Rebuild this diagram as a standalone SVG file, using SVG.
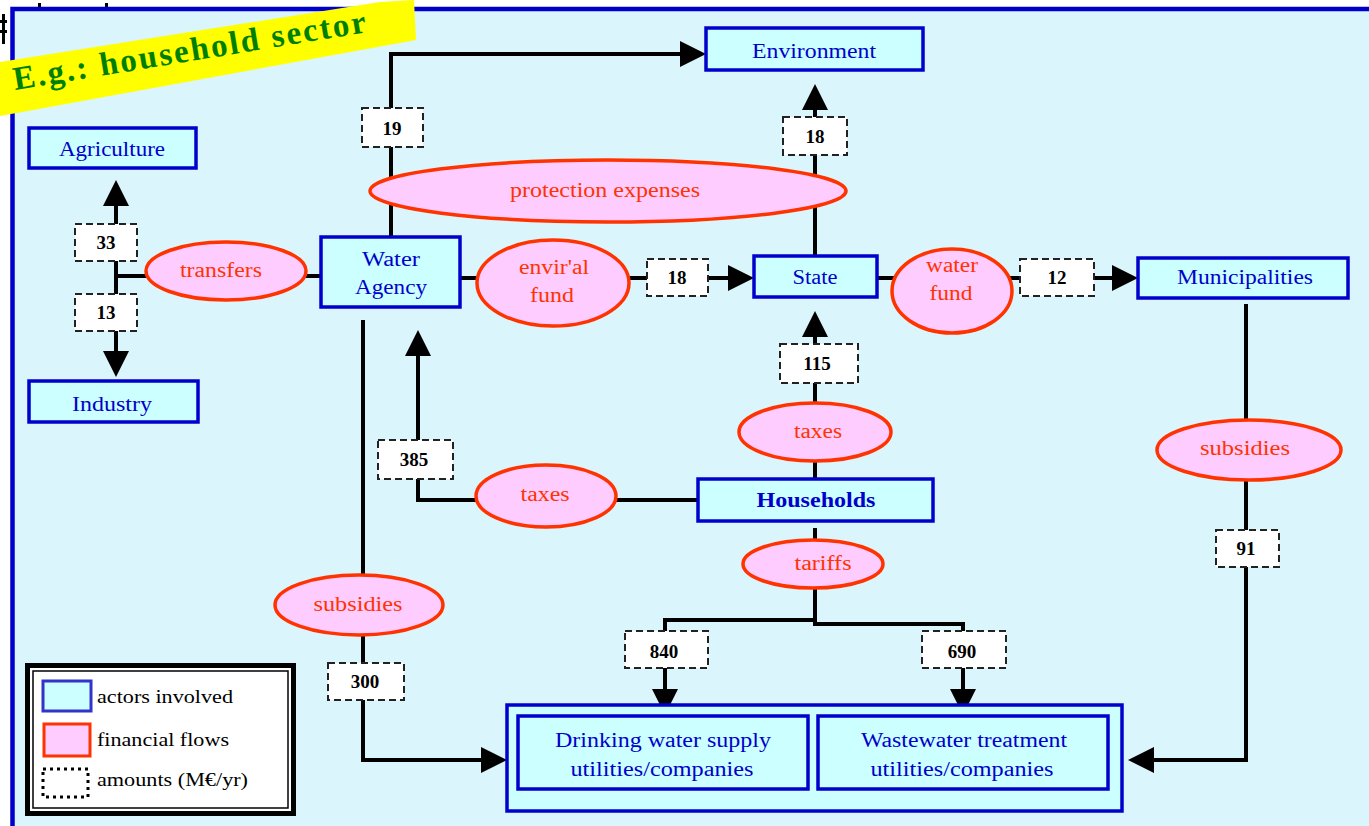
<svg xmlns="http://www.w3.org/2000/svg" width="1369" height="826" viewBox="0 0 1369 826">
  <style>
    .actor { fill: #ccffff; stroke: #0000cc; stroke-width: 3.5; }
    .flow { fill: #ffccff; stroke: #ff3300; stroke-width: 3.5; }
    .amount { fill: #ffffff; stroke: #222222; stroke-width: 2; stroke-dasharray: 7 4; }
    .wire { fill: none; stroke: #000000; stroke-width: 4; stroke-linejoin: miter; }
    .atext { font-family: "Liberation Serif", "Times New Roman", serif; font-size: 20px; fill: #0000cc; text-anchor: middle; }
    .ftext { font-family: "Liberation Serif", "Times New Roman", serif; font-size: 20px; fill: #ff3300; text-anchor: middle; }
    .ntext { font-family: "Liberation Serif", "Times New Roman", serif; font-size: 19px; font-weight: bold; fill: #000000; text-anchor: middle; }
    .ltext { font-family: "Liberation Serif", "Times New Roman", serif; font-size: 18px; fill: #000000; }
  </style>
  <defs>
    <marker id="arrow" viewBox="0 0 26 26" markerUnits="userSpaceOnUse" markerWidth="26" markerHeight="26" refX="6" refY="13" orient="auto">
      <path d="M0,0 L26,13 L0,26 z" fill="#000000"/>
    </marker>
  </defs>

  <!-- page background and frame -->
  <rect x="0" y="0" width="1369" height="826" fill="#ffffff"/>
  <rect x="12.5" y="9" width="1370" height="830" fill="#daf5fc" stroke="#0000cc" stroke-width="4.5"/>
  <rect x="0" y="20" width="7" height="3" fill="#000"/>
  <rect x="0" y="30" width="7" height="3" fill="#000"/>
  <rect x="2" y="14" width="3" height="30" fill="#000"/>
  <rect x="38" y="3" width="3" height="4" fill="#000"/>
  <rect x="105" y="3" width="3" height="4" fill="#000"/>

  <!-- title banner -->
  <g id="banner">
    <polygon points="0,62 380,2 414,0 416,40 0,116" fill="#ffff00"/>
    <text x="15" y="90" transform="rotate(-9.35 15 90)" textLength="357" lengthAdjust="spacing" font-family="Liberation Serif, Times New Roman, serif" font-size="33" font-weight="bold" fill="#008000">E.g.: household sector</text>
  </g>

  <!-- connectors -->
  <g id="connectors">
    <path class="wire" d="M391,237 V54 H686" marker-end="url(#arrow)"/>
    <path class="wire" d="M815,256 V104" marker-end="url(#arrow)"/>
    <path class="wire" d="M321,276 H116" stroke-width="5"/>
    <path class="wire" d="M116,276 V200" marker-end="url(#arrow)"/>
    <path class="wire" d="M116,276 V357" marker-end="url(#arrow)"/>
    <path class="wire" d="M460,278 H734" marker-end="url(#arrow)"/>
    <path class="wire" d="M877,278 H1118" marker-end="url(#arrow)"/>
    <path class="wire" d="M1246,304 V760 H1148" marker-end="url(#arrow)"/>
    <path class="wire" d="M815,479 V331" marker-end="url(#arrow)"/>
    <path class="wire" d="M698,500 H418 V350" marker-end="url(#arrow)"/>
    <path class="wire" d="M363,320 V760 H487" marker-end="url(#arrow)"/>
    <path class="wire" d="M815,528 V622"/>
    <path class="wire" d="M817,620 H665 V695" marker-end="url(#arrow)"/>
    <path class="wire" d="M813,624 H963 V695" marker-end="url(#arrow)"/>
  </g>

  <!-- actors -->
  <g id="environment">
    <rect class="actor" x="706" y="28" width="217" height="42"/>
    <text class="atext" x="814" y="58" textLength="124" lengthAdjust="spacingAndGlyphs">Environment</text>
  </g>
  <g id="agriculture">
    <rect class="actor" x="29" y="128" width="167" height="40"/>
    <text class="atext" x="112" y="156" textLength="106" lengthAdjust="spacingAndGlyphs">Agriculture</text>
  </g>
  <g id="industry">
    <rect class="actor" x="29" y="381" width="169" height="41"/>
    <text class="atext" x="112" y="411" textLength="80" lengthAdjust="spacingAndGlyphs">Industry</text>
  </g>
  <g id="water-agency">
    <rect class="actor" x="321" y="237" width="139" height="70"/>
    <text class="atext" x="391" y="266" textLength="58" lengthAdjust="spacingAndGlyphs">Water</text>
    <text class="atext" x="391" y="294" textLength="72" lengthAdjust="spacingAndGlyphs">Agency</text>
  </g>
  <g id="state">
    <rect class="actor" x="754" y="256" width="123" height="41"/>
    <text class="atext" x="815" y="284" textLength="45" lengthAdjust="spacingAndGlyphs">State</text>
  </g>
  <g id="municipalities">
    <rect class="actor" x="1138" y="258" width="210" height="40"/>
    <text class="atext" x="1245" y="284" textLength="136" lengthAdjust="spacingAndGlyphs">Municipalities</text>
  </g>
  <g id="households">
    <rect class="actor" x="698" y="479" width="235" height="42"/>
    <text class="atext" x="816" y="507" font-weight="bold" textLength="119" lengthAdjust="spacingAndGlyphs">Households</text>
  </g>
  <g id="utilities">
    <rect class="actor" x="507" y="705" width="615" height="106"/>
    <rect class="actor" x="518" y="716" width="290" height="73"/>
    <rect class="actor" x="818" y="716" width="290" height="73"/>
    <text class="atext" x="663" y="747" textLength="216" lengthAdjust="spacingAndGlyphs">Drinking water supply</text>
    <text class="atext" x="662" y="776" textLength="183" lengthAdjust="spacingAndGlyphs">utilities/companies</text>
    <text class="atext" x="964" y="747" textLength="206" lengthAdjust="spacingAndGlyphs">Wastewater treatment</text>
    <text class="atext" x="962" y="776" textLength="183" lengthAdjust="spacingAndGlyphs">utilities/companies</text>
  </g>

  <!-- financial flows -->
  <g id="transfers">
    <ellipse class="flow" cx="226" cy="271" rx="80" ry="29"/>
    <text class="ftext" x="221" y="277" textLength="82" lengthAdjust="spacingAndGlyphs">transfers</text>
  </g>
  <g id="protection-expenses">
    <ellipse class="flow" cx="608" cy="191" rx="238" ry="31"/>
    <text class="ftext" x="605" y="197" textLength="190" lengthAdjust="spacingAndGlyphs">protection expenses</text>
  </g>
  <g id="envir-fund">
    <ellipse class="flow" cx="553" cy="283" rx="76" ry="43"/>
    <text class="ftext" x="554" y="274" textLength="70" lengthAdjust="spacingAndGlyphs">envir'al</text>
    <text class="ftext" x="552" y="302" textLength="44" lengthAdjust="spacingAndGlyphs">fund</text>
  </g>
  <g id="water-fund">
    <ellipse class="flow" cx="952" cy="291" rx="60" ry="42"/>
    <text class="ftext" x="952" y="272" textLength="52" lengthAdjust="spacingAndGlyphs">water</text>
    <text class="ftext" x="951" y="300" textLength="43" lengthAdjust="spacingAndGlyphs">fund</text>
  </g>
  <g id="taxes-state">
    <ellipse class="flow" cx="815" cy="432" rx="76" ry="29"/>
    <text class="ftext" x="818" y="438" textLength="48" lengthAdjust="spacingAndGlyphs">taxes</text>
  </g>
  <g id="taxes-agency">
    <ellipse class="flow" cx="546" cy="496" rx="70" ry="31"/>
    <text class="ftext" x="545" y="501" textLength="49" lengthAdjust="spacingAndGlyphs">taxes</text>
  </g>
  <g id="tariffs">
    <ellipse class="flow" cx="813" cy="564" rx="70" ry="24"/>
    <text class="ftext" x="823" y="570" textLength="57" lengthAdjust="spacingAndGlyphs">tariffs</text>
  </g>
  <g id="subsidies-agency">
    <ellipse class="flow" cx="359" cy="605" rx="84" ry="30"/>
    <text class="ftext" x="358" y="611" textLength="89" lengthAdjust="spacingAndGlyphs">subsidies</text>
  </g>
  <g id="subsidies-municipalities">
    <ellipse class="flow" cx="1249" cy="450" rx="92" ry="30"/>
    <text class="ftext" x="1245" y="455" textLength="90" lengthAdjust="spacingAndGlyphs">subsidies</text>
  </g>

  <!-- amounts -->
  <g id="amount-19"><rect class="amount" x="362" y="108" width="61" height="39"/><text class="ntext" x="392" y="135">19</text></g>
  <g id="amount-18-env"><rect class="amount" x="783" y="117" width="64" height="38"/><text class="ntext" x="815" y="143">18</text></g>
  <g id="amount-33"><rect class="amount" x="75" y="224" width="62" height="37"/><text class="ntext" x="106" y="249">33</text></g>
  <g id="amount-13"><rect class="amount" x="75" y="294" width="62" height="37"/><text class="ntext" x="106" y="319">13</text></g>
  <g id="amount-18-state"><rect class="amount" x="647" y="259" width="61" height="37"/><text class="ntext" x="677" y="284">18</text></g>
  <g id="amount-12"><rect class="amount" x="1020" y="259" width="74" height="37"/><text class="ntext" x="1057" y="284">12</text></g>
  <g id="amount-115"><rect class="amount" x="780" y="344" width="78" height="39"/><text class="ntext" x="817" y="370">115</text></g>
  <g id="amount-385"><rect class="amount" x="378" y="440" width="75" height="39"/><text class="ntext" x="414" y="466">385</text></g>
  <g id="amount-300"><rect class="amount" x="328" y="663" width="76" height="37"/><text class="ntext" x="365" y="688">300</text></g>
  <g id="amount-840"><rect class="amount" x="625" y="631" width="83" height="37"/><text class="ntext" x="664" y="658">840</text></g>
  <g id="amount-690"><rect class="amount" x="922" y="631" width="84" height="37"/><text class="ntext" x="962" y="658">690</text></g>
  <g id="amount-91"><rect class="amount" x="1216" y="530" width="63" height="37"/><text class="ntext" x="1246" y="555">91</text></g>

  <!-- key -->
  <g id="legend">
    <rect x="27.5" y="665.5" width="266" height="148" fill="#ffffff" stroke="#000000" stroke-width="5"/>
    <rect x="33" y="671" width="255" height="137" fill="none" stroke="#000000" stroke-width="1.5"/>
    <rect x="43" y="681" width="48" height="30" fill="#ccffff" stroke="#3333cc" stroke-width="3"/>
    <rect x="44" y="724" width="46" height="32" fill="#ffccff" stroke="#ff3300" stroke-width="3"/>
    <rect x="43" y="769" width="45" height="28" fill="none" stroke="#000000" stroke-width="3" stroke-dasharray="3 4"/>
    <text class="ltext" x="97" y="703" textLength="136" lengthAdjust="spacingAndGlyphs">actors involved</text>
    <text class="ltext" x="97" y="746" textLength="132" lengthAdjust="spacingAndGlyphs">financial flows</text>
    <text class="ltext" x="97" y="786" textLength="151" lengthAdjust="spacingAndGlyphs">amounts (M€/yr)</text>
  </g>
</svg>
